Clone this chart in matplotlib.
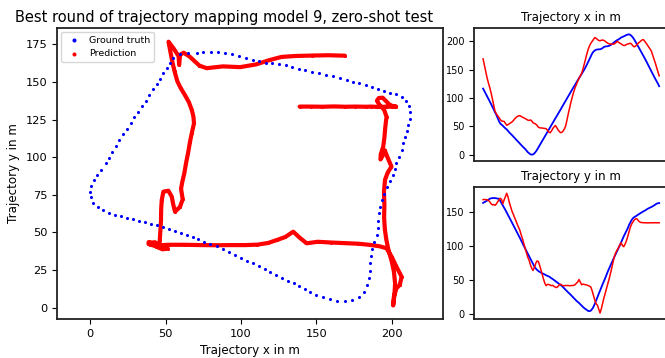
import numpy as np
import matplotlib.pyplot as plt

# ground truth trajectory, one value per time step (m)
gt_x = [116.6, 112.2, 108.0, 103.4, 98.9, 94.3, 89.7, 85.0, 80.2, 75.1, 70.7, 65.1, 59.6, 55.2,
        53.0, 51.2, 48.6, 46.4, 44.6, 41.9, 39.1, 36.9, 34.5, 32.0, 29.4, 27.0, 24.5, 22.1, 19.4, 17.0,
        14.6, 12.4, 10.2, 7.5,
        4.5, 2.5, 0.7, 0.0, 0.5, 2.2, 5.1, 8.4, 12.4, 16.4, 20.3, 24.5, 28.7, 32.7, 36.7,
        40.6, 44.6, 48.4, 52.2, 56.1, 60.1, 64.1, 68.0, 71.8, 75.7, 79.7, 84.0, 87.9, 91.9, 95.9,
        100.1, 103.8, 107.8, 111.8, 115.8, 119.5, 123.5, 127.4, 131.2, 135.0, 138.7, 142.5, 146.0,
        150.0, 154.4, 159.0, 163.9, 169.0, 173.8, 178.5, 181.8, 183.8, 185.1, 185.6, 185.8, 186.0,
        186.7, 188.2, 190.0, 190.9, 191.1, 191.5, 192.2, 193.3, 195.0, 196.8, 198.8, 200.6, 202.1,
        203.2, 205.0, 206.6, 207.6, 208.7, 209.9, 211.0, 211.9, 212.3, 211.4, 209.4, 206.6, 203.2,
        199.0, 194.8, 190.9, 186.9, 182.7, 178.5, 174.3, 170.1, 165.7, 161.0, 156.4, 152.0, 147.3,
        142.7, 138.3, 133.9, 129.7, 125.5, 120.8]
gt_y = [162.6, 163.7, 164.8, 165.9, 167.2, 168.6, 169.3, 169.7, 169.7, 169.7, 169.4, 169.0, 168.6, 165.7,
        162.4, 159.1, 155.7, 152.2, 148.6, 145.1, 141.3, 137.5, 133.8, 129.8, 126.5, 122.7, 118.7,
        115.4, 111.4, 107.4, 103.5, 99.7, 95.9, 91.8,
        88.4, 84.7, 80.9, 76.9, 73.4, 69.8, 66.9, 64.7, 63.1, 61.8, 60.7, 59.6, 58.7, 57.8, 56.7,
        55.8, 55.1, 53.8, 52.3, 51.2, 49.8, 48.3, 46.8, 45.4, 43.9, 42.5, 41.0, 39.0, 37.0, 35.0,
        33.0, 31.2, 29.5, 27.5, 25.7, 23.7, 21.5, 19.5, 17.9, 16.2, 14.2, 12.4, 10.4,
        8.6, 7.3, 5.8, 4.5, 4.2, 5.1, 7.3, 10.6, 14.9, 19.9, 24.6, 29.5, 34.4,
        39.0, 43.9, 48.3, 52.8, 57.8, 62.7, 67.1, 71.6, 75.5, 80.0, 84.0, 88.2, 92.0,
        95.9, 100.3, 104.8, 109.2, 113.6, 117.6, 121.4, 125.2, 130.2, 134.0, 137.5, 140.2, 141.8,
        142.9, 144.2, 145.5, 146.8, 148.0, 149.1, 150.2, 151.3, 152.4, 153.8, 154.8, 155.7, 156.6,
        157.7, 158.8, 160.1, 161.5, 162.1, 162.4]

# model prediction, same time steps
pred_x = [169.0, 158.0, 147.0, 136.0, 127.0, 119.0, 110.0, 99.5, 88.0, 77.3, 72.5, 69.0, 66.0, 62.0,
          59.7, 59.0, 58.7, 55.5, 52.0, 53.0, 54.6, 56.0, 57.8, 60.0, 63.0, 65.5, 67.4, 68.5, 68.9,
          67.4, 66.2, 65.0, 63.6, 62.5, 61.0, 60.3, 61.4, 59.6, 56.3, 55.2, 54.1, 51.9, 48.6, 47.5,
          47.1, 47.0, 46.6, 46.2, 45.9, 43.0, 40.0, 38.7, 41.5, 46.0, 49.0, 51.5, 48.0, 44.0, 41.0,
          38.8, 39.5, 42.0, 46.0, 52.0, 63.0, 74.0, 84.0, 94.0, 103.0, 111.0, 118.0, 124.0, 129.5,
          134.7, 139.0, 143.6, 151.0, 160.0, 169.0, 178.0, 186.0, 192.0, 196.6, 200.0, 203.2, 206.6,
          205.4, 203.2, 201.5, 201.0, 201.8, 202.3, 201.5, 200.0, 198.0, 196.5, 195.5, 195.0, 195.2,
          194.9, 195.6, 197.5, 199.9, 198.5, 196.8, 195.5, 193.8, 192.6, 192.8, 194.4, 195.2, 195.8,
          196.6, 195.0, 192.0, 190.2, 191.5, 194.0, 196.5, 198.5, 200.5, 202.5, 203.0, 200.0, 197.0,
          193.5, 190.0, 186.5, 183.0, 176.0, 169.0, 162.0, 154.0, 146.5, 139.0]
pred_y = [167.4, 167.7, 167.5, 167.2, 166.6, 164.5, 161.6, 159.8, 160.3, 159.1, 160.8, 164.0, 166.8, 169.4,
          168.0, 161.3, 167.0, 172.0, 176.7, 171.2, 163.0, 157.0, 150.5, 146.0, 141.0, 136.5, 131.4,
          127.0, 122.5, 115.9, 110.0, 103.0, 96.0, 89.5, 83.0, 79.0, 72.0, 67.0, 63.8, 68.2, 73.8,
          77.7, 77.1, 71.6, 65.0, 58.0, 51.0, 45.0, 41.5, 43.5, 43.2, 42.5, 41.5, 42.0, 40.5, 39.3,
          38.8, 40.5, 42.8, 43.6, 42.0, 41.5, 41.5, 41.8, 41.8, 41.6, 41.5, 41.6, 41.6, 41.9, 43.0,
          45.0, 47.0, 50.5, 46.5, 42.8, 43.8, 43.3, 42.9, 42.5, 41.7, 40.8, 39.5, 33.9, 27.2, 20.6,
          15.1, 12.9, 7.3, 1.5, 8.0, 16.0, 24.0, 31.0, 38.0, 45.0, 52.0, 60.0, 68.0,
          77.0, 85.0, 90.0, 93.7, 97.0, 101.0, 104.5, 100.5, 98.5, 102.0, 107.0, 113.0, 120.0,
          126.9, 131.5, 134.7, 137.5, 139.3, 139.5, 137.0, 135.0, 134.0, 133.8, 133.6, 133.5, 133.6,
          133.4, 133.4, 133.6, 133.5, 133.6, 133.5, 133.7, 133.5, 133.6, 133.6]

steps = np.arange(len(gt_x))

fig = plt.figure(figsize=(6.65, 3.58), dpi=100)

# big trajectory plot
ax = fig.add_axes([0.0857, 0.1089, 0.5803, 0.8129])
ax.plot(pred_x, pred_y, color='red', linewidth=3.0, solid_joinstyle='round',
        solid_capstyle='round', zorder=2)
ax.scatter(pred_x, pred_y, s=5, color='red', linewidths=0, label='Prediction', zorder=2)
ax.scatter(gt_x, gt_y, s=5, color='blue', linewidths=0, label='Ground truth', zorder=3)
ax.set_xlim(-22, 234)
ax.set_ylim(-7.5, 185.8)
ax.set_xticks([0, 50, 100, 150, 200])
ax.set_yticks([0, 25, 50, 75, 100, 125, 150, 175])
# title sits a bit left of the axes centre in the original
ax.set_title('Best round of trajectory mapping model 9, zero-shot test', fontsize=10.5,
             pad=4, x=0.433)
ax.set_xlabel('Trajectory x in m', fontsize=8.6)
ax.set_ylabel('Trajectory y in m', fontsize=8.6)
ax.tick_params(labelsize=8.2)
handles, labels = ax.get_legend_handles_labels()
ax.legend(handles[::-1], labels[::-1], loc='upper left', fontsize=6.8,
          borderaxespad=0.4, handletextpad=0.6, markerscale=1.3)

# x over time
ax_x = fig.add_axes([0.7132, 0.5511, 0.2913, 0.3698])
ax_x.plot(steps, gt_x, color='blue', linewidth=1.3)
ax_x.plot(steps, pred_x, color='red', linewidth=1.1)
ax_x.set_xticks([])
ax_x.set_title('Trajectory x in m', fontsize=8.6, pad=5)
ax_x.tick_params(labelsize=7)

# y over time
ax_y = fig.add_axes([0.7132, 0.1089, 0.2913, 0.3679])
ax_y.plot(steps, gt_y, color='blue', linewidth=1.3)
ax_y.plot(steps, pred_y, color='red', linewidth=1.1)
ax_y.set_xticks([])
ax_y.set_title('Trajectory y in m', fontsize=8.6, pad=5)
ax_y.tick_params(labelsize=7)

for a in (ax, ax_x, ax_y):
    for s in a.spines.values():
        s.set_linewidth(1.3)
        s.set_color('#222222')

plt.savefig('out.png', dpi=100)
